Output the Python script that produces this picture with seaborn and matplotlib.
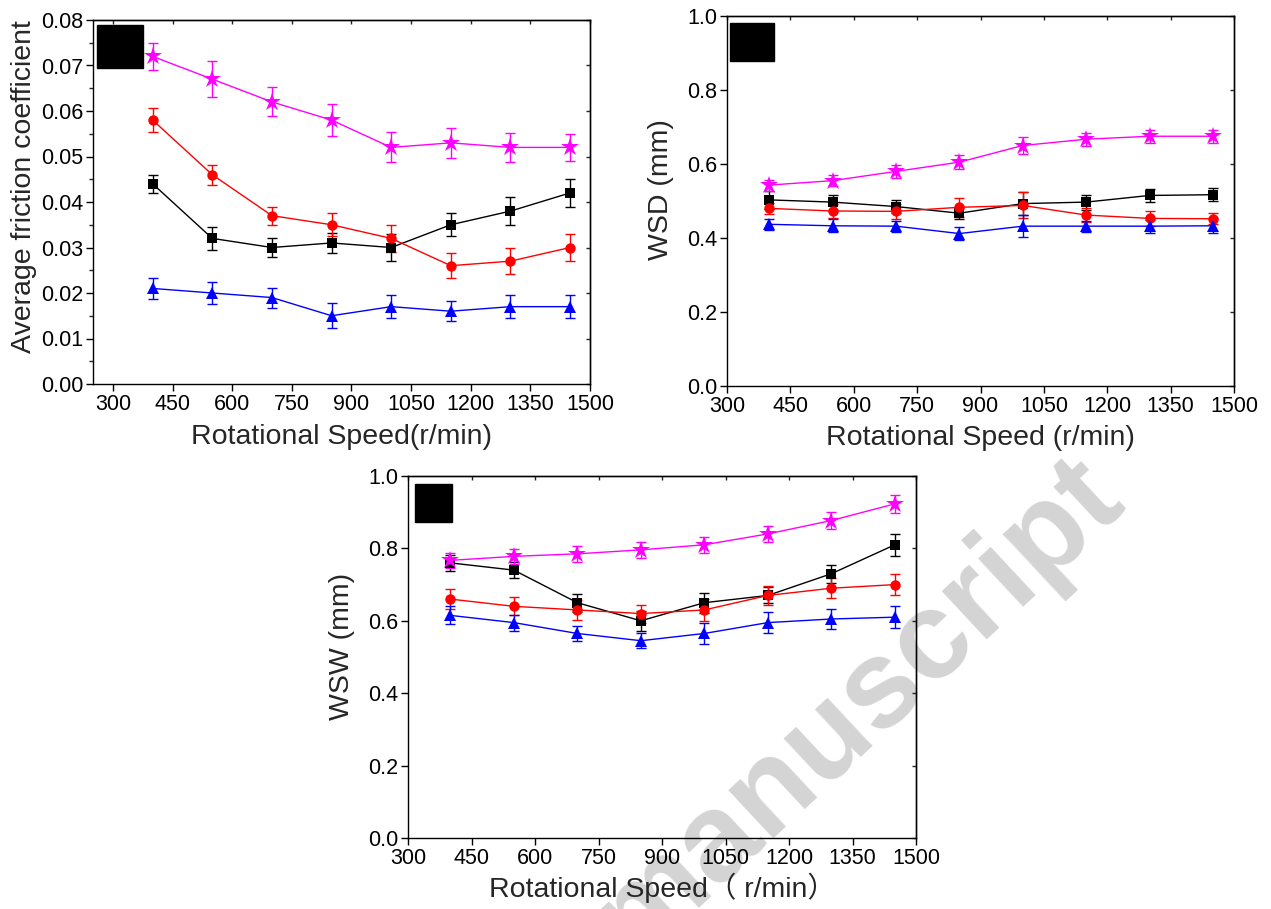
import numpy as np
import pandas as pd
import matplotlib
matplotlib.use("Agg")
import matplotlib.pyplot as plt
import seaborn as sns
from matplotlib.patches import Rectangle
from matplotlib.ticker import MultipleLocator

# ---- data -------------------------------------------------------------
speed = [400, 550, 700, 850, 1000, 1150, 1300, 1450]
series = ["square", "circle", "triangle", "star"]

# average friction coefficient
cof_square = [0.044, 0.032, 0.030, 0.031, 0.030, 0.035, 0.038, 0.042]
cof_square_err = [0.002, 0.0025, 0.002, 0.0022, 0.003, 0.0025, 0.003, 0.003]
cof_circle = [0.058, 0.046, 0.037, 0.035, 0.032, 0.026, 0.027, 0.030]
cof_circle_err = [0.0026, 0.0022, 0.002, 0.0025, 0.003, 0.0027, 0.0028, 0.003]
cof_triangle = [0.021, 0.020, 0.019, 0.015, 0.017, 0.016, 0.017, 0.017]
cof_triangle_err = [0.0023, 0.0025, 0.0022, 0.0027, 0.0025, 0.0022, 0.0025, 0.0025]
cof_star = [0.072, 0.067, 0.062, 0.058, 0.052, 0.053, 0.052, 0.052]
cof_star_err = [0.003, 0.004, 0.0032, 0.0035, 0.0033, 0.0033, 0.0032, 0.003]

# wear scar diameter (mm)
wsd_square = [0.503, 0.497, 0.485, 0.467, 0.493, 0.497, 0.515, 0.517]
wsd_square_err = [0.025, 0.02, 0.018, 0.015, 0.03, 0.02, 0.018, 0.018]
wsd_circle = [0.480, 0.473, 0.472, 0.483, 0.488, 0.462, 0.453, 0.452]
wsd_circle_err = [0.015, 0.018, 0.02, 0.025, 0.035, 0.02, 0.02, 0.015]
wsd_triangle = [0.437, 0.433, 0.432, 0.412, 0.432, 0.432, 0.432, 0.433]
wsd_triangle_err = [0.015, 0.018, 0.015, 0.018, 0.03, 0.015, 0.018, 0.02]
wsd_star = [0.543, 0.555, 0.580, 0.605, 0.650, 0.667, 0.675, 0.675]
wsd_star_err = [0.015, 0.015, 0.017, 0.018, 0.022, 0.017, 0.018, 0.018]

# wear scar width (mm)
wsw_square = [0.760, 0.740, 0.650, 0.600, 0.650, 0.670, 0.730, 0.810]
wsw_square_err = [0.022, 0.022, 0.025, 0.028, 0.028, 0.022, 0.025, 0.03]
wsw_circle = [0.660, 0.640, 0.630, 0.620, 0.630, 0.670, 0.690, 0.700]
wsw_circle_err = [0.028, 0.025, 0.028, 0.025, 0.03, 0.025, 0.027, 0.03]
wsw_triangle = [0.615, 0.595, 0.565, 0.545, 0.565, 0.595, 0.605, 0.610]
wsw_triangle_err = [0.025, 0.022, 0.02, 0.02, 0.03, 0.028, 0.028, 0.03]
wsw_star = [0.767, 0.778, 0.785, 0.796, 0.810, 0.840, 0.877, 0.923]
wsw_star_err = [0.02, 0.02, 0.022, 0.022, 0.022, 0.022, 0.024, 0.024]

x_ticks = [300, 450, 600, 750, 900, 1050, 1200, 1350, 1500]

# ---- styling ------------------------------------------------------------
colors = {"square": "#000000", "circle": "#ff0000", "triangle": "#0000ff", "star": "#ff00ff"}
markers = {"square": "s", "circle": "o", "triangle": "^", "star": "*"}
msizes = {"square": 6.5, "circle": 7.5, "triangle": 8.5, "star": 13.5}

sns.set_theme(style="ticks")
plt.rcParams["font.family"] = ["Liberation Sans", "Noto Sans CJK KR", "DejaVu Sans"]
plt.rcParams["axes.linewidth"] = 1.0
plt.rcParams["xtick.major.width"] = 1.0
plt.rcParams["ytick.major.width"] = 1.0

W, H = 1271, 909
fig = plt.figure(figsize=(W / 100, H / 100), dpi=100)
fig.patch.set_facecolor("white")


def axes_px(x0, x1, y0, y1):
    """Create axes from pixel edges (top-origin)."""
    return fig.add_axes([x0 / W, (H - y1) / H, (x1 - x0) / W, (y1 - y0) / H])


def draw_panel(ax, data, xlim, ylim, yticks, ylabel, xlabel, yfmt, box,
               xpad, ylab_xy, minor=None):
    ax.set_facecolor("none")
    for name in series:
        vals, errs = data[name]
        df = pd.DataFrame({"speed": speed, "value": vals})
        ax.errorbar(speed, vals, yerr=errs, fmt="none", ecolor=colors[name],
                    elinewidth=1.0, capsize=3.8, capthick=1.0, zorder=2)
        sns.lineplot(data=df, x="speed", y="value", ax=ax, color=colors[name],
                     marker=markers[name], markersize=msizes[name],
                     markeredgewidth=0, linewidth=1.0, zorder=3)
    ax.set_xlim(*xlim)
    ax.set_ylim(*ylim)
    ax.set_xticks(x_ticks)
    ax.set_yticks(yticks)
    ax.set_yticklabels([yfmt.format(v) for v in yticks])
    if minor is not None:
        ax.yaxis.set_minor_locator(MultipleLocator(minor))
    ax.tick_params(axis="both", which="major", direction="out", length=5,
                   labelsize=15.5, pad=2, colors="black")
    ax.tick_params(axis="y", which="minor", direction="out", length=3, width=1.0)
    for spine in ax.spines.values():
        spine.set_visible(True)
        spine.set_color("black")
        spine.set_linewidth(1.0)
    # short inward ticks mirrored on the top and right edges
    with plt.rc_context({"xtick.direction": "in", "ytick.direction": "in"}):
        sec_x = ax.secondary_xaxis("top")
        sec_x.set_xticks(x_ticks)
        sec_x.tick_params(axis="x", direction="in", length=3, width=1.0,
                          labeltop=False, labelbottom=False)
        sec_y = ax.secondary_yaxis("right")
        sec_y.set_yticks(yticks)
        sec_y.tick_params(axis="y", direction="in", length=3, width=1.0,
                          labelright=False, labelleft=False)
    ax.set_xlabel(xlabel, fontsize=20.5, labelpad=xpad)
    ax.set_ylabel(ylabel, fontsize=20.5)
    ax.yaxis.set_label_coords(*ylab_xy)
    ax.add_patch(Rectangle((box[0], box[1]), box[2] - box[0], box[3] - box[1],
                           transform=ax.transAxes, facecolor="black",
                           edgecolor="black", zorder=5))


# friction coefficient panel
ax1 = axes_px(93, 590, 20, 384)
draw_panel(
    ax1,
    {"square": (cof_square, cof_square_err), "circle": (cof_circle, cof_circle_err),
     "triangle": (cof_triangle, cof_triangle_err), "star": (cof_star, cof_star_err)},
    (250, 1500), (0, 0.08), [0, 0.01, 0.02, 0.03, 0.04, 0.05, 0.06, 0.07, 0.08],
    "Average friction coefficient", "Rotational Speed(r/min)", "{:.2f}",
    (0.008, 0.868, 0.100, 0.986), xpad=7, ylab_xy=(-0.112, 0.543), minor=0.005,
)

# wear scar diameter panel
ax2 = axes_px(727, 1234, 16, 386)
draw_panel(
    ax2,
    {"square": (wsd_square, wsd_square_err), "circle": (wsd_circle, wsd_circle_err),
     "triangle": (wsd_triangle, wsd_triangle_err), "star": (wsd_star, wsd_star_err)},
    (300, 1500), (0, 1.0), [0.0, 0.2, 0.4, 0.6, 0.8, 1.0],
    "WSD (mm)", "Rotational Speed (r/min)", "{:.1f}",
    (0.006, 0.878, 0.093, 0.981), xpad=6, ylab_xy=(-0.104, 0.53),
)

# wear scar width panel
ax3 = axes_px(408, 916, 476, 838)
draw_panel(
    ax3,
    {"square": (wsw_square, wsw_square_err), "circle": (wsw_circle, wsw_circle_err),
     "triangle": (wsw_triangle, wsw_triangle_err), "star": (wsw_star, wsw_star_err)},
    (300, 1500), (0, 1.0), [0.0, 0.2, 0.4, 0.6, 0.8, 1.0],
    "WSW (mm)", "Rotational Speed\uff08 r/min\uff09", "{:.1f}",
    (0.014, 0.873, 0.087, 0.978), xpad=3, ylab_xy=(-0.105, 0.53),
)

# light diagonal watermark behind the panels
fig.text(858 / W, (H - 708) / H, "manuscript", fontsize=90, fontweight="bold",
         color="#d4d4d4", rotation=43, rotation_mode="anchor",
         ha="center", va="center", zorder=-1, family="Liberation Sans")

fig.savefig("out.png", dpi=100, facecolor="white")
